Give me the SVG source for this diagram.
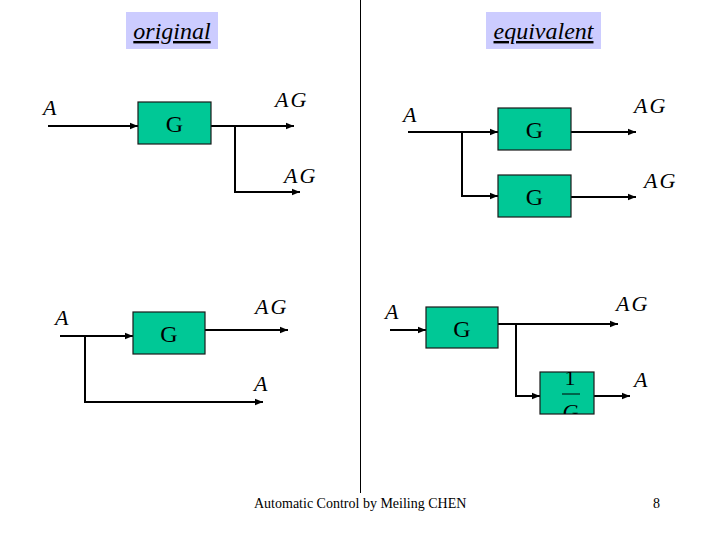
<svg xmlns="http://www.w3.org/2000/svg" width="720" height="540" viewBox="0 0 720 540">
<style>
.box{fill:#00C896;stroke:#1a1a1a;stroke-width:1.2}
.ln{fill:none;stroke:#000;stroke-width:2}
.g{font-family:"Liberation Serif","Times New Roman",serif;font-size:24px;text-anchor:middle}
.lb{font-family:"Liberation Serif","Times New Roman",serif;font-size:22px;font-style:italic;letter-spacing:2px}
.hd{font-family:"Liberation Serif","Times New Roman",serif;font-size:24px;font-style:italic;text-decoration:underline;text-anchor:middle}
.ft{font-family:"Liberation Serif","Times New Roman",serif;font-size:14px}
</style>
<defs>
<marker id="ah" viewBox="0 0 10 10" refX="10" refY="5" markerWidth="4" markerHeight="4" orient="auto" markerUnits="strokeWidth">
<path d="M0,1 L10,5 L0,9 z" fill="#000"/>
</marker>
<clipPath id="cp"><rect x="540" y="372" width="54" height="42"/></clipPath>
</defs>
<rect width="720" height="540" fill="#fff"/>
<line x1="360.5" y1="0" x2="360.5" y2="493" stroke="#000" stroke-width="1"/>
<g id="hdr-original">
<rect x="126" y="12" width="92" height="37" fill="#CCCCFF"/>
<text class="hd" x="172" y="39">original</text>
</g>
<g id="hdr-equivalent">
<rect x="486" y="12" width="115" height="37" fill="#CCCCFF"/>
<text class="hd" x="543.5" y="39">equivalent</text>
</g>
<g id="connectors">
<line class="ln" x1="48" y1="126" x2="138" y2="126" marker-end="url(#ah)"/>
<line class="ln" x1="211" y1="126" x2="294" y2="126" marker-end="url(#ah)"/>
<polyline class="ln" points="235,126 235,192 300,192" marker-end="url(#ah)"/>
<line class="ln" x1="408" y1="132" x2="498" y2="132" marker-end="url(#ah)"/>
<polyline class="ln" points="462,132 462,196 498,196" marker-end="url(#ah)"/>
<line class="ln" x1="571" y1="132" x2="636" y2="132" marker-end="url(#ah)"/>
<line class="ln" x1="571" y1="197" x2="636" y2="197" marker-end="url(#ah)"/>
<line class="ln" x1="60" y1="336" x2="133" y2="336" marker-end="url(#ah)"/>
<line class="ln" x1="205" y1="330" x2="288" y2="330" marker-end="url(#ah)"/>
<polyline class="ln" points="85,336 85,402 263,402" marker-end="url(#ah)"/>
<line class="ln" x1="390" y1="330" x2="426" y2="330" marker-end="url(#ah)"/>
<line class="ln" x1="498" y1="324" x2="618" y2="324" marker-end="url(#ah)"/>
<polyline class="ln" points="516,324 516,396 540,396" marker-end="url(#ah)"/>
<line class="ln" x1="594" y1="396" x2="630" y2="396" marker-end="url(#ah)"/>
</g>
<g id="n1"><rect class="box" x="138" y="102" width="73" height="42"/><text class="g" x="174.5" y="132">G</text></g>
<g id="n2"><rect class="box" x="498" y="108" width="73" height="42"/><text class="g" x="534.5" y="138">G</text></g>
<g id="n3"><rect class="box" x="498" y="175" width="73" height="42"/><text class="g" x="534.5" y="205">G</text></g>
<g id="n4"><rect class="box" x="133" y="312" width="72" height="42"/><text class="g" x="169" y="342">G</text></g>
<g id="n5"><rect class="box" x="426" y="307" width="72" height="41"/><text class="g" x="462" y="337">G</text></g>
<g id="n6"><rect class="box" x="540" y="372" width="54" height="42"/>
<g clip-path="url(#cp)">
<text class="g" x="570" y="385" style="font-size:22px">1</text>
<line x1="562" y1="394" x2="580" y2="394" stroke="#000" stroke-width="1"/>
<text class="lb" x="570.5" y="419" text-anchor="middle" style="letter-spacing:0">G</text>
</g></g>
<g id="labels">
<text class="lb" x="43" y="115">A</text>
<text class="lb" x="275" y="107">AG</text>
<text class="lb" x="284" y="183">AG</text>
<text class="lb" x="403" y="122">A</text>
<text class="lb" x="634" y="113">AG</text>
<text class="lb" x="644" y="188">AG</text>
<text class="lb" x="55" y="325">A</text>
<text class="lb" x="255" y="314">AG</text>
<text class="lb" x="254" y="391">A</text>
<text class="lb" x="385" y="319">A</text>
<text class="lb" x="616" y="311">AG</text>
<text class="lb" x="634" y="387">A</text>
</g>
<text class="ft" x="254" y="508">Automatic Control by Meiling CHEN</text>
<text class="ft" x="653" y="508">8</text>
</svg>
